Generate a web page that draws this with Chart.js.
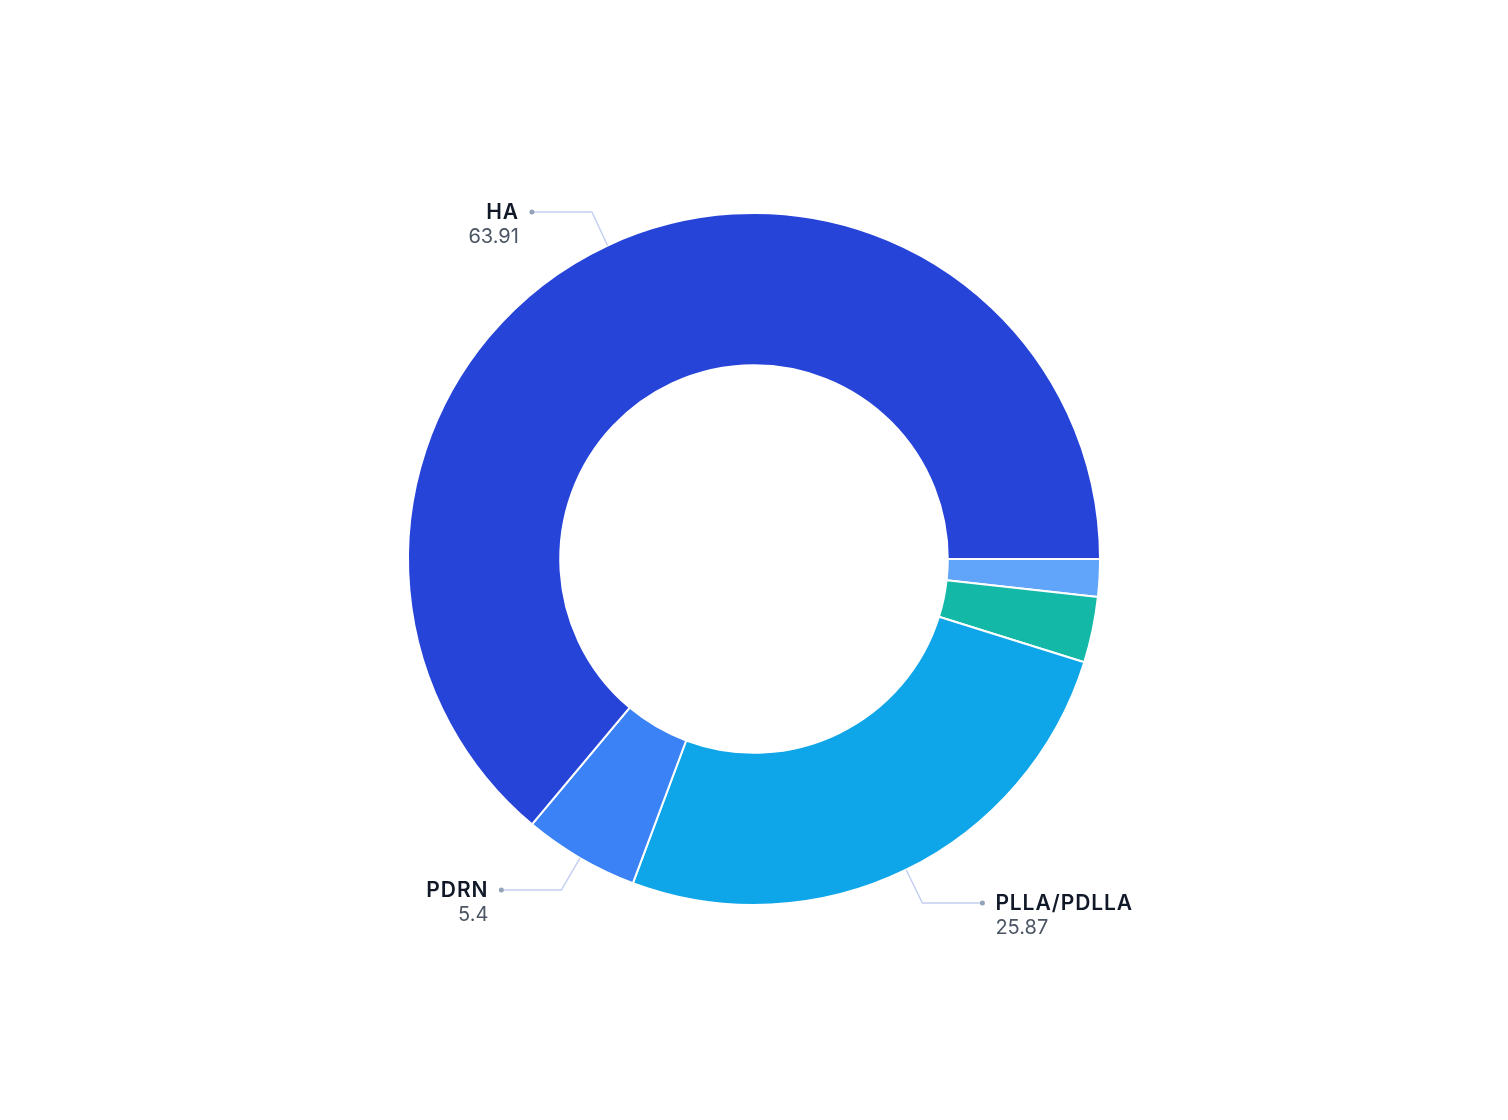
<!DOCTYPE html>
<html>
<head>
<meta charset="utf-8">
<script src="https://cdn.jsdelivr.net/npm/chart.js@4.4.1/dist/chart.umd.min.js"></script>
<style>
  html, body { margin: 0; padding: 0; background: #fff; }
  #wrap { width: 1508px; height: 1120px; }
</style>
</head>
<body>
<div id="wrap"><canvas id="myChart" width="1508" height="1120"></canvas></div>
<script>
// drawn clockwise from 3 o'clock
var labels = ['Others', 'Collagen', 'PLLA/PDLLA', 'PDRN', 'HA'];
var values = [1.75, 3.07, 25.87, 5.4, 63.91];
var colors = ['#60a5fa', '#14b8a6', '#0ea5e9', '#3b82f6', '#2744d9'];
var minLabelValue = 5;

var leaderLabels = {
    id: 'leaderLabels',
    afterDatasetsDraw: function(chart) {
        var ctx = chart.ctx;
        var meta = chart.getDatasetMeta(0);
        meta.data.forEach(function(arc, i) {
            var v = values[i];
            if (v < minLabelValue) return;
            var mid = (arc.startAngle + arc.endAngle) / 2;
            var r = arc.outerRadius;
            var cx = arc.x, cy = arc.y;
            var x0 = cx + Math.cos(mid) * r, y0 = cy + Math.sin(mid) * r;
            var x1 = cx + Math.cos(mid) * (r + 37), y1 = cy + Math.sin(mid) * (r + 37);
            var dir = Math.cos(mid) >= 0 ? 1 : -1;
            var x2 = x1 + dir * 60;
            ctx.save();
            ctx.strokeStyle = '#c5cff0';
            ctx.lineWidth = 1.5;
            ctx.beginPath();
            ctx.moveTo(x0, y0);
            ctx.lineTo(x1, y1);
            ctx.lineTo(x2, y1);
            ctx.stroke();
            ctx.fillStyle = '#94a3b8';
            ctx.beginPath();
            ctx.arc(x2, y1, 2.5, 0, Math.PI * 2);
            ctx.fill();
            var tx = x2 + dir * 13;
            ctx.textAlign = dir > 0 ? 'left' : 'right';
            ctx.textBaseline = 'middle';
            ctx.fillStyle = '#111827';
            ctx.font = '600 21px Inter, "Noto Sans", sans-serif';
            ctx.letterSpacing = '0.9px';
            ctx.fillText(labels[i], tx, y1 + 1);
            ctx.fillStyle = '#4b5563';
            ctx.font = '400 20px Inter, "Noto Sans", sans-serif';
            ctx.letterSpacing = '0px';
            ctx.fillText(String(v), tx, y1 + 25);
            ctx.restore();
        });
    }
};

new Chart(document.getElementById('myChart').getContext('2d'), {
    type: 'doughnut',
    data: {
        labels: labels,
        datasets: [{
            data: values,
            backgroundColor: colors,
            borderColor: '#ffffff',
            borderWidth: 2
        }]
    },
    options: {
        responsive: false,
        animation: false,
        rotation: 90,
        cutout: '56%',
        layout: { padding: { top: 212, bottom: 214 } },
        plugins: {
            legend: { display: false },
            tooltip: { enabled: false }
        }
    },
    plugins: [leaderLabels]
});
</script>
</body>
</html>
